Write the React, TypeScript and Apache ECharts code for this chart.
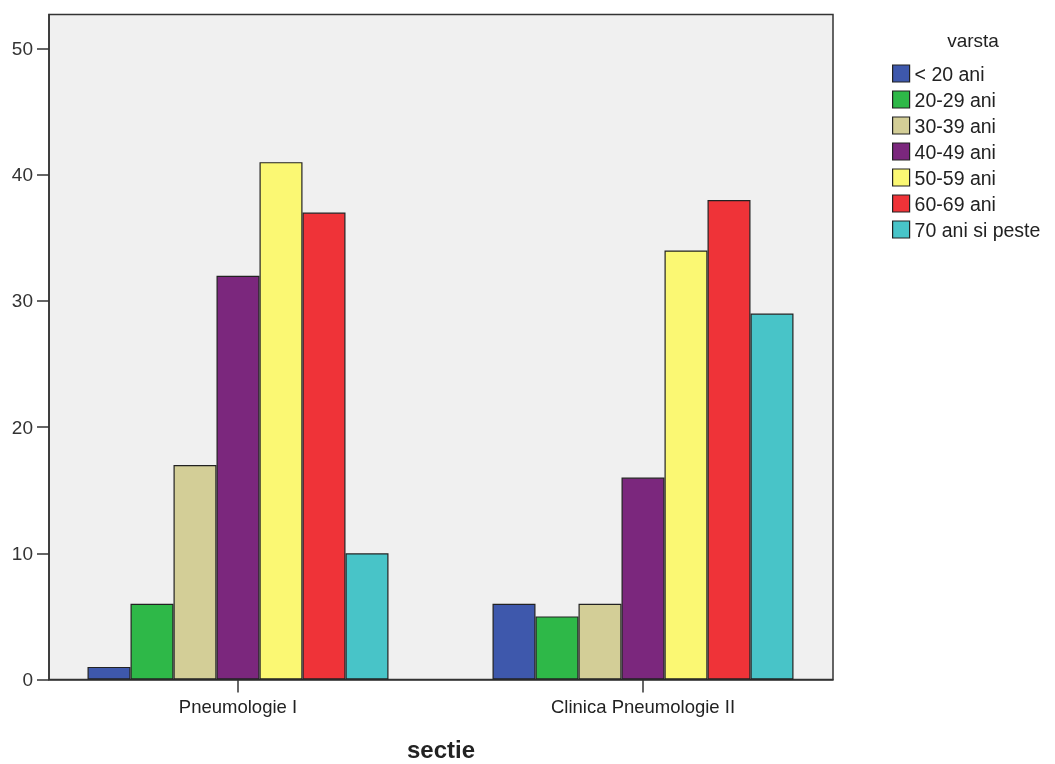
import React, { useEffect, useRef } from "react";
import * as echarts from "echarts";

const categories = ["Pneumologie I", "Clinica Pneumologie II"];
const ageGroups = ["< 20 ani", "20-29 ani", "30-39 ani", "40-49 ani", "50-59 ani", "60-69 ani", "70 ani si peste"];
const colors = ["#3E58AC", "#2EB848", "#D3CE97", "#7B277D", "#FBF873", "#EF3338", "#48C4C8"];
const valuesPneumologieI = [1, 6, 17, 32, 41, 37, 10];
const valuesClinicaII = [6, 5, 6, 16, 34, 38, 29];
const yTicks = [0, 10, 20, 30, 40, 50];
const yMax = 52.7;

const FONT = "'Liberation Sans', Arial, sans-serif";

export default function App() {
  const ref = useRef<HTMLDivElement>(null);
  useEffect(() => {
    if (!ref.current) return;
    const chart = echarts.init(ref.current, undefined, { renderer: "svg" });
    const series = ageGroups.map((name, i) => ({
      name,
      type: "bar",
      xAxisIndex: 1,
      yAxisIndex: 1,
      barWidth: 43,
      barGap: "0%",
      itemStyle: { color: colors[i], borderColor: "#222", borderWidth: 1.2 },
      data: [valuesPneumologieI[i], valuesClinicaII[i]],
    }));
    chart.setOption({
      animation: false,
      textStyle: { fontFamily: FONT },
      grid: [
        {
          left: 49, top: 14.5, right: 222, bottom: 84.5,
          show: true, backgroundColor: "#F0F0F0", borderColor: "#333", borderWidth: 1.5,
          containLabel: false, outerBoundsMode: "none",
        },
        { left: 35.5, top: 14.5, width: 810, bottom: 84.5, containLabel: false, outerBoundsMode: "none" },
      ],
      xAxis: [
        {
          gridIndex: 0, type: "category", data: categories,
          axisLine: { lineStyle: { color: "#333", width: 1.5 } },
          axisTick: { show: false }, axisLabel: { show: false },
          splitLine: { show: false },
          name: "sectie", nameLocation: "middle", nameGap: 58,
          nameTextStyle: { fontSize: 24, fontWeight: "bold", color: "#222", fontFamily: FONT },
        },
        {
          gridIndex: 1, type: "category", data: categories,
          axisLine: { show: false },
          axisTick: { show: true, alignWithLabel: true, length: 13, lineStyle: { color: "#333", width: 1.5 } },
          axisLabel: { fontSize: 18.5, color: "#222", margin: 17, fontFamily: FONT },
        },
      ],
      yAxis: [
        {
          gridIndex: 0, type: "value", min: 0, max: yMax, interval: 10,
          axisLine: { show: true, lineStyle: { color: "#333", width: 1.5 } },
          axisTick: { show: true, length: 12, lineStyle: { color: "#333", width: 1.5 } },
          axisLabel: {
            fontSize: 19, color: "#333", margin: 16, showMaxLabel: false, fontFamily: FONT,
            formatter: (v: number) => (yTicks.includes(v) ? String(v) : ""),
          },
          splitLine: { show: false },
        },
        {
          gridIndex: 1, type: "value", min: 0, max: yMax, interval: 10,
          show: false, splitLine: { show: false },
        },
      ],
      legend: {
        orient: "vertical", left: 892, top: 63.5, padding: 0,
        itemWidth: 17, itemHeight: 17, itemGap: 6,
        icon: "rect",
        itemStyle: { borderColor: "#222", borderWidth: 1.2 },
        textStyle: { fontSize: 19.5, lineHeight: 19, color: "#222", fontFamily: FONT },
        data: ageGroups,
        selectedMode: false,
      },
      title: {
        text: "varsta", left: 973, top: 31, textAlign: "center", padding: 0,
        textStyle: { fontSize: 19, fontWeight: "normal", color: "#222", fontFamily: FONT },
      },
      series,
    });
    return () => chart.dispose();
  }, []);
  return <div ref={ref} style={{ position: "fixed", left: 0, top: 0, width: 1055, height: 764 }} />;
}
